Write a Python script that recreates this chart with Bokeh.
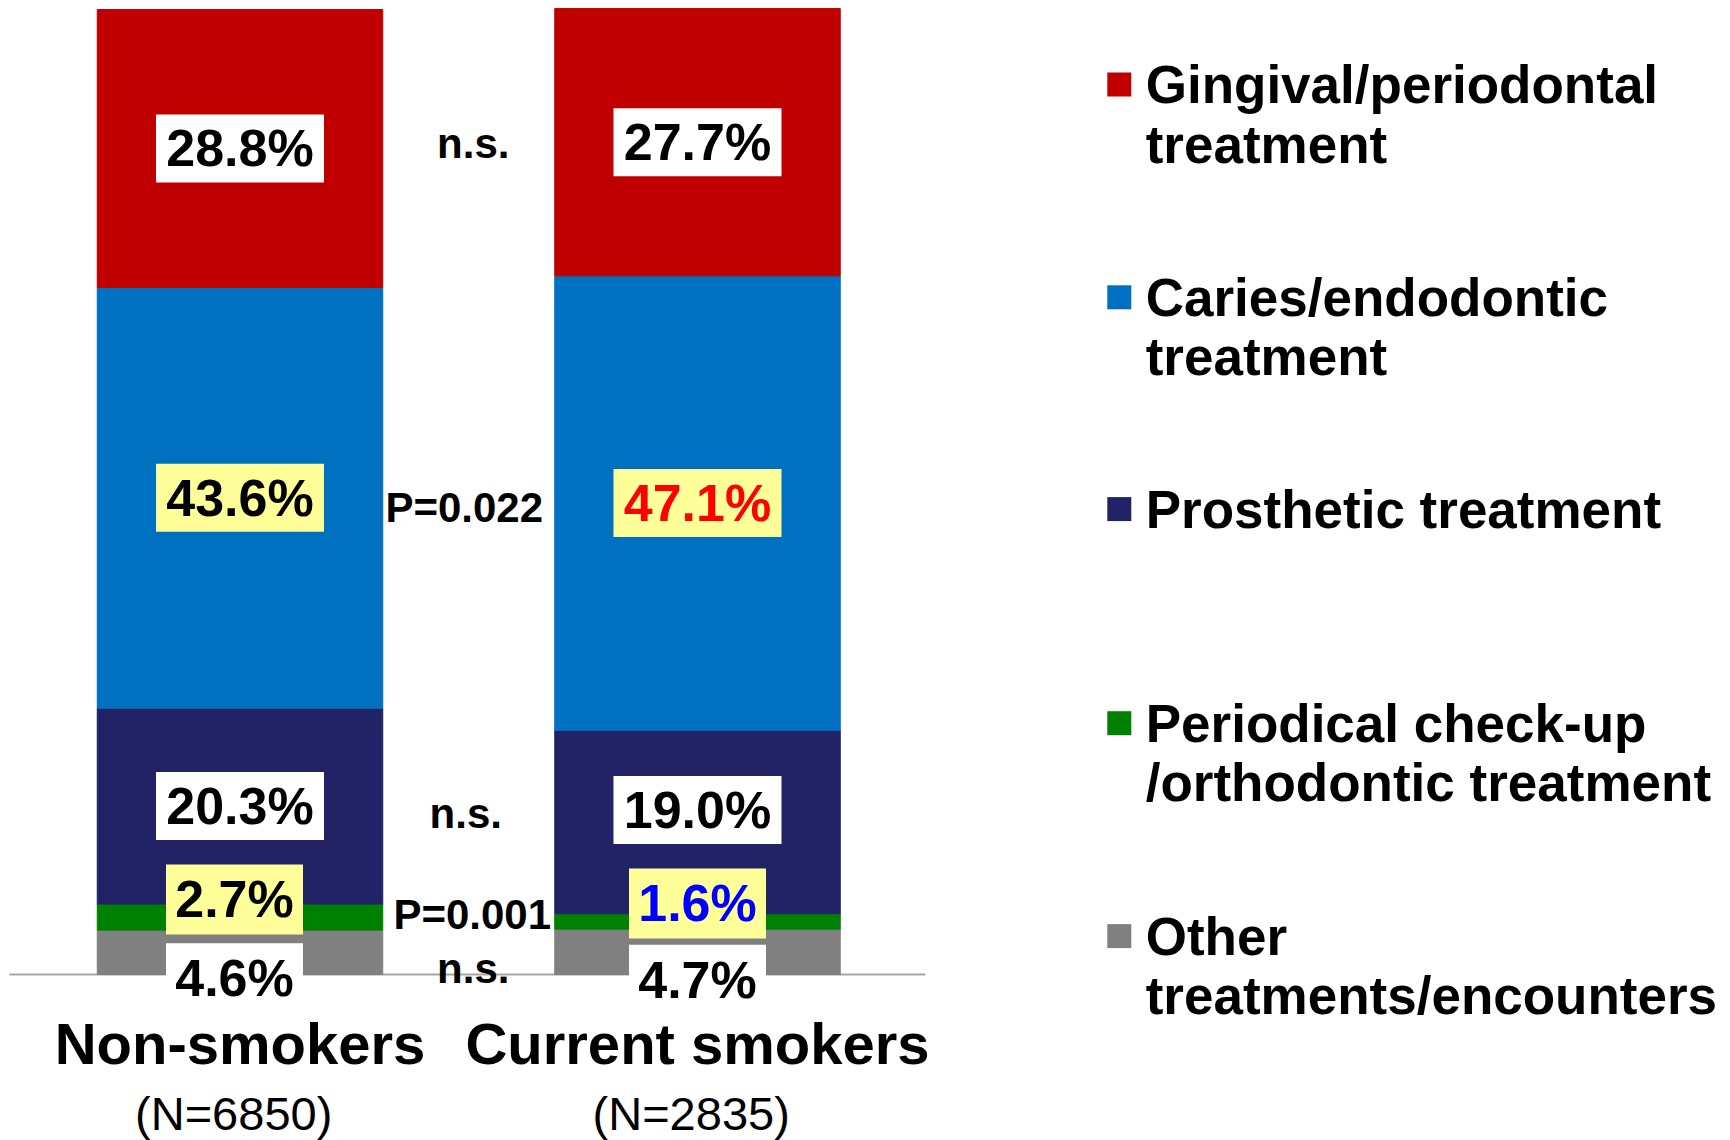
from bokeh.plotting import figure
from bokeh.models import Range1d, ColumnDataSource
from bokeh.embed import file_html
from bokeh.resources import INLINE
from bokeh.core.properties import value

# ---------------- data ----------------
groups = ["Non-smokers", "Current smokers"]
group_n = ["(N=6850)", "(N=2835)"]
series_names = ["gingival", "caries", "prosthetic", "periodical", "other"]  # top -> bottom
legend_lines = [
    ["Gingival/periodontal", "treatment"],
    ["Caries/endodontic", "treatment"],
    ["Prosthetic treatment"],
    ["Periodical check-up", "/orthodontic treatment"],
    ["Other", "treatments/encounters"],
]
gingival = [28.8, 27.7]
caries = [43.6, 47.1]
prosthetic = [20.3, 19.0]
periodical = [2.7, 1.6]
other = [4.6, 4.7]
p_values = ["n.s.", "P=0.022", "n.s.", "P=0.001", "n.s."]

# ---------------- styles ----------------
colors = {"gingival": "#C00000", "caries": "#0070C0", "prosthetic": "#222266",
          "periodical": "#008000", "other": "#808080"}
WHITE, YELLOW = "#FFFFFF", "#FFFF99"
box_fill = {"gingival": [WHITE, WHITE], "caries": [YELLOW, YELLOW], "prosthetic": [WHITE, WHITE],
            "periodical": [YELLOW, YELLOW], "other": [WHITE, WHITE]}
txt_color = {"gingival": ["black", "black"], "caries": ["black", "#FF0000"], "prosthetic": ["black", "black"],
             "periodical": ["black", "#0000FF"], "other": ["black", "black"]}
box_size = {"gingival": (168, 68), "caries": (168, 68), "prosthetic": (168, 68),
            "periodical": (137, 70), "other": (137, 70)}
# label offsets from segment middle, in screen pixels (x right, y down)
lab_dx = {"gingival": [0, 0], "caries": [0, 0], "prosthetic": [0, 0],
          "periodical": [-5.5, 0], "other": [-5.5, 0]}
lab_dy = {"gingival": [0, 0], "caries": [0, 0], "prosthetic": [0, -12],
          "periodical": [-17.6, -18], "other": [26, 28]}
ann_dx = [4.5, -4.5, -3, 3.5, 4.5]
ann_dy = [-1.6, 7, 5, 12.6, -11]

FONT = value("Liberation Sans")
W, H = 1730, 1140
PX_X = 457.5      # px per x unit (distance between bar centres)
PX_Y = 9.65       # px per percent
X0_PX = 239.5     # px of first bar centre
Y0_PX = 974.0     # px of 0 %


def dx(px):
    return px / PX_X


def dy(px):
    return -px / PX_Y


x_start = -X0_PX / PX_X
x_end = (W - X0_PX) / PX_X
y_start = -(H - Y0_PX) / PX_Y
y_end = Y0_PX / PX_Y

p = figure(width=W, height=H, x_range=Range1d(x_start, x_end), y_range=Range1d(y_start, y_end),
           output_backend="svg", toolbar_location=None, min_border=0,
           x_axis_type=None, y_axis_type=None)
p.grid.visible = False
p.outline_line_color = None
p.background_fill_color = "white"

xs = list(range(len(groups)))
data = {"gingival": gingival, "caries": caries, "prosthetic": prosthetic,
        "periodical": periodical, "other": other}

# baseline
p.segment(x0=[dx(9 - X0_PX)], y0=[0], x1=[dx(925 - X0_PX)], y1=[0],
          line_color="#A6A6A6", line_width=2)

# stacked bars (bottom -> top)
stack_order = series_names[::-1]
src = ColumnDataSource(dict(x=xs, **data))
p.vbar_stack(stack_order, x="x", width=285.5 / PX_X, color=[colors[s] for s in stack_order], source=src)

# value labels
bottoms = [0.0] * len(groups)
label_rows = {}
for s in stack_order:
    vals = data[s]
    mids = [b + v / 2 for b, v in zip(bottoms, vals)]
    lx = [x + dx(o) for x, o in zip(xs, lab_dx[s])]
    ly = [m + dy(o) for m, o in zip(mids, lab_dy[s])]
    label_rows[s] = ly
    bw, bh = box_size[s]
    p.rect(x=lx, y=ly, width=bw, height=bh, width_units="screen", height_units="screen",
           fill_color=box_fill[s], line_color=None)
    p.text(x=lx, y=ly, text=[f"{v:.1f}%" for v in vals], text_color=txt_color[s],
           text_font=FONT, text_font_style="bold", text_font_size="52px",
           text_align="center", text_baseline="middle")
    bottoms = [b + v for b, v in zip(bottoms, vals)]

# significance annotations
ann_x, ann_y = [], []
for i, s in enumerate(series_names):
    ann_x.append(0.5 + dx(ann_dx[i]))
    ann_y.append(sum(label_rows[s]) / len(label_rows[s]) + dy(ann_dy[i]))
p.text(x=ann_x, y=ann_y, text=p_values, text_font=FONT, text_font_style="bold",
       text_font_size="42px", text_align="center", text_baseline="middle", text_color="black")

# category labels
p.text(x=xs, y=[dy(68.6)] * len(xs), text=groups, text_font=FONT, text_font_style="bold",
       text_font_size="58px", text_align="center", text_baseline="middle", text_color="black")
p.text(x=[x + dx(-6.3) for x in xs], y=[dy(139)] * len(xs), text=group_n, text_font=FONT,
       text_font_size="47px", text_align="center", text_baseline="middle", text_color="black")

# legend
leg_y_px = [83.9, 296.8, 508.6, 722.7, 935.6]   # px of first line
sq_x = dx(1118.8 - X0_PX)
tx_x = dx(1145.2 - X0_PX)
for i, s in enumerate(series_names):
    yy = dy(leg_y_px[i] - Y0_PX)
    p.scatter(x=[sq_x], y=[yy], marker="square", size=24, fill_color=colors[s], line_color=None)
    lines = legend_lines[i]
    p.text(x=[tx_x] * len(lines), y=[yy + dy(59.6 * k) for k in range(len(lines))], text=lines,
           text_font=FONT, text_font_style="bold", text_font_size="53px",
           text_align="left", text_baseline="middle", text_color="black")

open("out.html", "w").write(file_html(p, INLINE))
